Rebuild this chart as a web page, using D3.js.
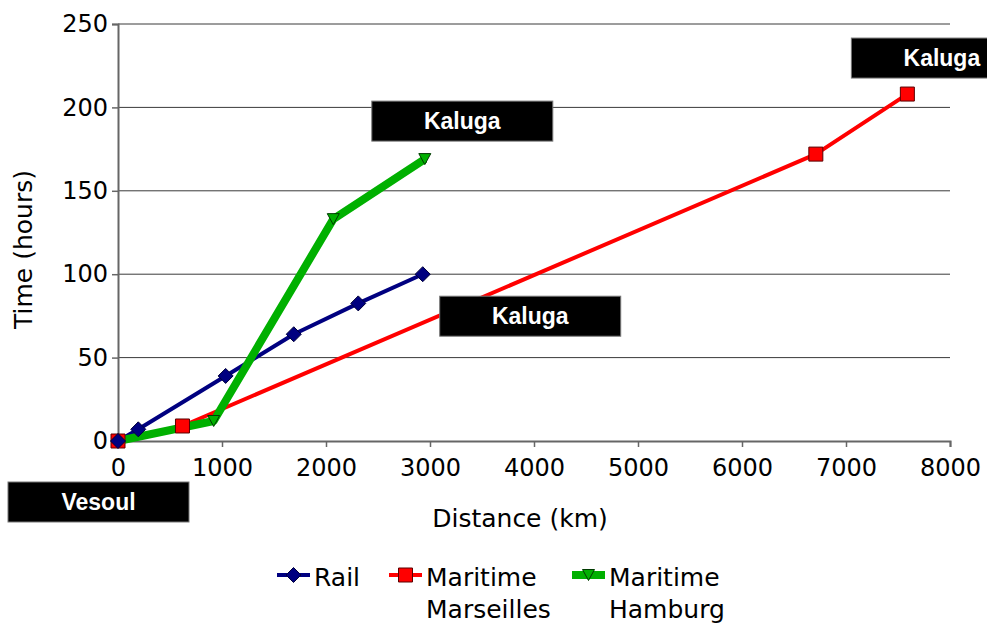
<!DOCTYPE html>
<html>
<head>
<meta charset="utf-8">
<script src="https://cdn.jsdelivr.net/npm/d3@7"></script>
<style>
  html, body { margin: 0; padding: 0; background: #fff; }
  svg { display: block; }
</style>
</head>
<body>
<svg id="chart" width="987" height="631"></svg>
<script>
// Distance (km) and travel time (hours) along each route from Vesoul to Kaluga
const railKm = [0, 195, 1035, 1690, 2310, 2930];
const railHours = [0, 7, 39, 64, 82.5, 100];

const marseillesKm = [0, 620, 6710, 7590];
const marseillesHours = [0, 9, 172, 208];

const hamburgKm = [0, 920, 2070, 2950];
const hamburgHours = [0, 12, 133, 169];

const seriesNames = ["Rail", "Maritime Marseilles", "Maritime Hamburg"];
const xTicks = [0, 1000, 2000, 3000, 4000, 5000, 6000, 7000, 8000];
const yTicks = [0, 50, 100, 150, 200, 250];

const font = "'DejaVu Sans', Verdana, sans-serif";
const labelFont = "'Liberation Sans', Arial, sans-serif";

const svg = d3.select("#chart");

const x = d3.scaleLinear().domain([0, 8000]).range([118, 950]);
const y = d3.scaleLinear().domain([0, 250]).range([441, 24]);

const series = [
  { name: seriesNames[0], km: railKm, hours: railHours, color: "#000080", stroke: "#00003a", width: 4, marker: "diamond" },
  { name: seriesNames[1], km: marseillesKm, hours: marseillesHours, color: "#ff0000", stroke: "#5a0000", width: 4, marker: "square" },
  { name: seriesNames[2], km: hamburgKm, hours: hamburgHours, color: "#00b000", stroke: "#003a00", width: 8, marker: "triangle" }
];

// Horizontal grid lines
svg.append("g")
  .selectAll("line")
  .data(yTicks.filter(t => t > 0))
  .join("line")
  .attr("x1", x(0)).attr("x2", x(8000))
  .attr("y1", d => y(d)).attr("y2", d => y(d))
  .attr("stroke", "#3a3a3a").attr("stroke-width", 1);

// Axes
const xAxis = svg.append("g")
  .attr("transform", `translate(0,${y(0)})`)
  .call(d3.axisBottom(x).tickValues(xTicks).tickSize(6).tickPadding(12).tickFormat(d3.format("d")));
const yAxis = svg.append("g")
  .attr("transform", `translate(${x(0)},0)`)
  .call(d3.axisLeft(y).tickValues(yTicks).tickSize(6).tickPadding(4).tickFormat(d3.format("d")));

[xAxis, yAxis].forEach(g => {
  g.select(".domain").attr("stroke", "#666").attr("stroke-width", 2);
  g.selectAll(".tick line").attr("stroke", "#666").attr("stroke-width", 1.5);
  g.selectAll(".tick text")
    .attr("fill", "#000")
    .style("font-family", font)
    .style("font-size", "24px");
});

// Axis titles
svg.append("text")
  .attr("x", (x(0) + x(8000)) / 2 - 14).attr("y", 527)
  .attr("text-anchor", "middle")
  .style("font-family", font).style("font-size", "25px")
  .text("Distance (km)");
svg.append("text")
  .attr("transform", `translate(32,${(y(0) + y(250)) / 2 + 17}) rotate(-90)`)
  .attr("text-anchor", "middle")
  .style("font-family", font).style("font-size", "25px")
  .text("Time (hours)");

// Marker shapes
function markerPath(kind) {
  if (kind === "diamond") return "M0,-7.5 L7.5,0 L0,7.5 L-7.5,0 Z";
  if (kind === "square") return "M-7,-7 H7 V7 H-7 Z";
  return "M-6,-5.5 L6,-5.5 L0,5.5 Z";
}

// Lines and markers
const line = d3.line().x(d => x(d[0])).y(d => y(d[1]));
series.forEach(s => {
  const pts = s.km.map((k, i) => [k, s.hours[i]]);
  s.points = pts;
  svg.append("path")
    .datum(pts)
    .attr("d", line)
    .attr("fill", "none")
    .attr("stroke", s.color)
    .attr("stroke-width", s.width)
    .attr("stroke-linejoin", "round");
});
// Markers drawn after all lines, Hamburg first so Rail sits on top
[series[2], series[1], series[0]].forEach(s => {
  svg.append("g")
    .selectAll("path")
    .data(s.points)
    .join("path")
    .attr("transform", d => `translate(${x(d[0])},${y(d[1])})`)
    .attr("d", markerPath(s.marker))
    .attr("fill", s.color)
    .attr("stroke", s.stroke)
    .attr("stroke-width", 1);
});

// Place-name labels attached to route end points
const labels = [
  { text: "Kaluga", km: hamburgKm[3], hours: hamburgHours[3], dx: -53, dy: -58 },
  { text: "Kaluga", km: marseillesKm[3], hours: marseillesHours[3], dx: -56, dy: -56 },
  { text: "Kaluga", km: railKm[5], hours: railHours[5], dx: 17, dy: 22 },
  { text: "Vesoul", km: 0, hours: 0, dx: -110, dy: 41 }
];
const boxW = 181, boxH = 40;
const lg = svg.append("g").selectAll("g").data(labels).join("g")
  .attr("transform", d => `translate(${x(d.km) + d.dx},${y(d.hours) + d.dy})`);
lg.append("rect")
  .attr("width", boxW).attr("height", boxH)
  .attr("fill", "#000").attr("stroke", "#777").attr("stroke-width", 1);
lg.append("text")
  .attr("x", boxW / 2).attr("y", 28)
  .attr("text-anchor", "middle")
  .attr("fill", "#fff")
  .style("font-family", labelFont).style("font-weight", "bold").style("font-size", "23px")
  .text(d => d.text);

// Legend
const legendItems = [
  { s: series[0], x0: 277, lines: ["Rail"] },
  { s: series[1], x0: 389, lines: ["Maritime", "Marseilles"] },
  { s: series[2], x0: 572, lines: ["Maritime", "Hamburg"] }
];
const legY = 575;
legendItems.forEach(it => {
  const g = svg.append("g");
  g.append("line")
    .attr("x1", it.x0).attr("x2", it.x0 + 33)
    .attr("y1", legY).attr("y2", legY)
    .attr("stroke", it.s.color).attr("stroke-width", it.s.width);
  g.append("path")
    .attr("transform", `translate(${it.x0 + 16.5},${legY})`)
    .attr("d", markerPath(it.s.marker))
    .attr("fill", it.s.color).attr("stroke", it.s.stroke).attr("stroke-width", 1);
  const t = g.append("text")
    .attr("x", it.x0 + 37).attr("y", legY + 11)
    .style("font-family", font).style("font-size", "25px");
  it.lines.forEach((ln, i) => {
    t.append("tspan").attr("x", it.x0 + 37).attr("dy", i === 0 ? 0 : 32).text(ln);
  });
});
</script>
</body>
</html>
